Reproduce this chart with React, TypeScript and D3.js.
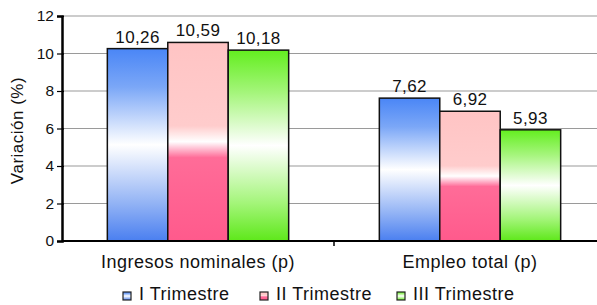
import { useEffect, useRef } from 'react'
import * as d3 from 'd3'

const categories = ['Ingresos nominales (p)', 'Empleo total (p)']
const series = ['I Trimestre', 'II Trimestre', 'III Trimestre']
const values = [
  [10.26, 10.59, 10.18],
  [7.62, 6.92, 5.93],
]
const yTicks = [0, 2, 4, 6, 8, 10, 12]

const gradients = [
  { id: 'gBlue', stops: [[0, '#4a86f6'], [0.2, '#7ba7f7'], [0.5, '#ffffff'], [0.8, '#94b4f5'], [1, '#4a7ff0']] },
  { id: 'gPink', stops: [[0, '#ffc4c4'], [0.42, '#ffcccc'], [0.5, '#ffffff'], [0.58, '#ff6c98'], [1, '#ff5a8c']] },
  { id: 'gGreen', stops: [[0, '#63ee1f'], [0.22, '#a4f57a'], [0.5, '#ffffff'], [0.8, '#a4f57a'], [1, '#5ee81a']] },
]

export default function App() {
  const svgRef = useRef<SVGSVGElement>(null)

  useEffect(() => {
    if (!svgRef.current) return
    const svg = d3.select(svgRef.current)
    svg.selectAll('*').remove()

    const width = 597
    const height = 305
    const margin = { top: 16, left: 62, bottom: 64 }
    const plotRight = 606
    const y0 = height - margin.bottom

    svg.attr('width', width).attr('height', height)
      .style('font-family', '"Liberation Sans", Arial, sans-serif')

    const defs = svg.append('defs')
    gradients.forEach(g => {
      const lg = defs.append('linearGradient').attr('id', g.id)
        .attr('x1', '0%').attr('x2', '0%').attr('y1', '0%').attr('y2', '100%')
      g.stops.forEach(([o, c]) => lg.append('stop').attr('offset', o as number).attr('stop-color', c as string))
    })

    const x0 = d3.scaleBand().domain(categories).range([margin.left, plotRight]).padding(0)
    const x1 = d3.scaleBand().domain(series).range([0, x0.bandwidth()]).paddingInner(0).paddingOuter(0.75)
    const y = d3.scaleLinear().domain([0, 12]).range([y0, margin.top])

    // grid
    svg.append('g').selectAll('line').data(yTicks.filter(t => t > 0)).join('line')
      .attr('x1', margin.left).attr('x2', width)
      .attr('y1', d => y(d)).attr('y2', d => y(d))
      .attr('stroke', '#9a9a9a').attr('stroke-width', 1.2)

    // bars
    const groups = svg.append('g').selectAll('g').data(categories).join('g')
      .attr('transform', d => `translate(${x0(d)},0)`)
    groups.each(function (cat, ci) {
      const g = d3.select(this)
      series.forEach((s, si) => {
        const v = values[ci][si]
        g.append('rect')
          .attr('x', x1(s)!).attr('width', x1.bandwidth())
          .attr('y', y(v)).attr('height', y0 - y(v))
          .attr('fill', `url(#${gradients[si].id})`)
          .attr('stroke', '#111').attr('stroke-width', 1.5)
        g.append('text')
          .attr('x', x1(s)! + x1.bandwidth() / 2).attr('y', y(v) - 6)
          .attr('text-anchor', 'middle').attr('font-size', 17).attr('letter-spacing', 0.4).attr('fill', '#111')
          .text(v.toFixed(2).replace('.', ','))
      })
    })

    // x axis
    const xAxis = svg.append('g').attr('transform', `translate(0,${y0})`)
    xAxis.append('line').attr('x1', margin.left).attr('x2', width).attr('stroke', '#000').attr('stroke-width', 2)
    xAxis.append('line').attr('x1', x0(categories[1])!).attr('x2', x0(categories[1])!)
      .attr('y1', 0).attr('y2', 5).attr('stroke', '#000').attr('stroke-width', 1.5)
    xAxis.selectAll('text').data(categories).join('text')
      .attr('x', d => x0(d)! + x0.bandwidth() / 2).attr('y', 27)
      .attr('text-anchor', 'middle').attr('font-size', 18).attr('letter-spacing', 0.5).attr('fill', '#111')
      .text(d => d)

    // y axis
    const yAxis = svg.append('g').attr('transform', `translate(${margin.left},0)`)
      .call(d3.axisLeft(y).tickValues(yTicks).tickSize(5).tickPadding(3).tickFormat(d => String(d)))
    yAxis.select('.domain').attr('stroke', '#000').attr('stroke-width', 2.5)
    yAxis.selectAll('.tick line').attr('stroke', '#000').attr('stroke-width', 1.2).attr('x2', 2).attr('x1', -5)
    yAxis.selectAll('.tick text').attr('font-size', 15.5).attr('fill', '#111')
      .style('font-family', '"Liberation Sans", Arial, sans-serif')

    svg.append('text')
      .attr('transform', `translate(23,${(margin.top + y0) / 2 + 2}) rotate(-90)`)
      .attr('text-anchor', 'middle').attr('font-size', 17).attr('letter-spacing', 0.5).attr('fill', '#111')
      .text('Variación (%)')

    // legend
    const legendX = [123, 260, 397]
    const leg = svg.append('g').selectAll('g').data(series).join('g')
      .attr('transform', (_, i) => `translate(${legendX[i]},292)`)
    leg.append('rect').attr('width', 8).attr('height', 8)
      .attr('fill', (_, i) => `url(#${gradients[i].id})`)
      .attr('stroke', '#222').attr('stroke-width', 1.2)
    leg.append('text').attr('x', 16).attr('y', 8).attr('font-size', 18).attr('letter-spacing', 0.5).attr('fill', '#111')
      .text(d => d)
  }, [])

  return <svg ref={svgRef} style={{ position: 'absolute', left: 0, top: 0 }} />
}
